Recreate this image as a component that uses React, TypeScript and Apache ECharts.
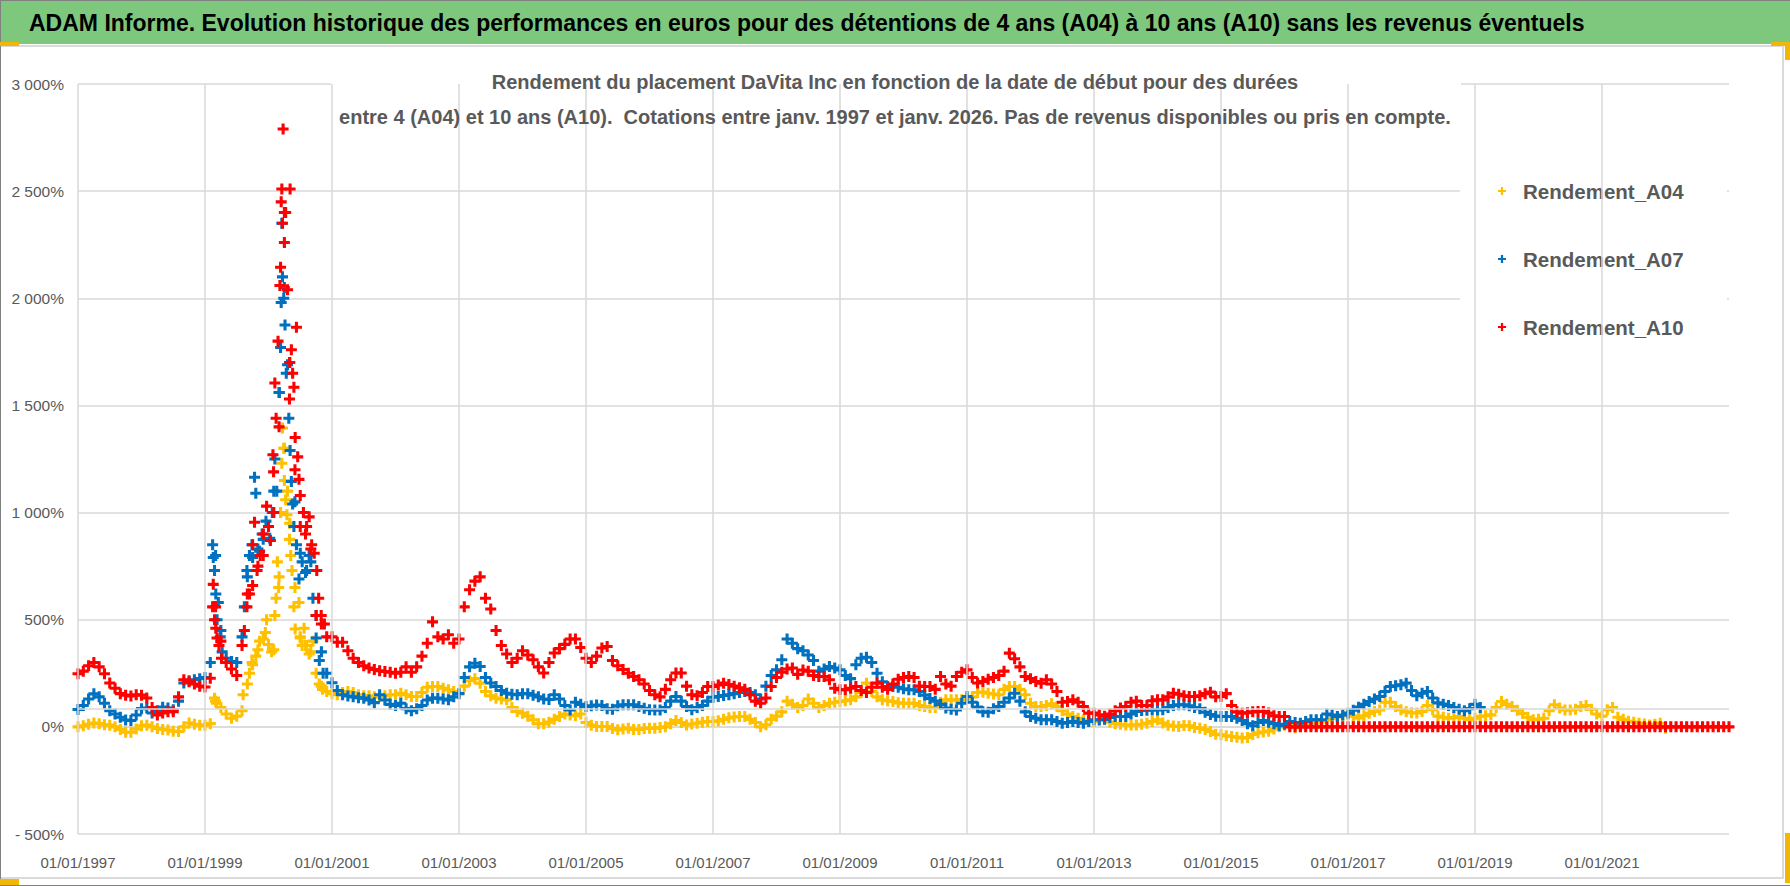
import React, { useEffect, useRef } from 'react';
import * as echarts from 'echarts';

const START_YEAR = 1997;
const TITLE =
  'ADAM Informe. Evolution historique des performances en euros pour des détentions de 4 ans (A04) à 10 ans (A10) sans les revenus éventuels';
const SUBTITLE_1 = 'Rendement du placement DaVita Inc en fonction de la date de début pour des durées';
const SUBTITLE_2 =
  'entre 4 (A04) et 10 ans (A10).  Cotations entre janv. 1997 et janv. 2026. Pas de revenus disponibles ou pris en compte.';
const SERIES_NAMES = ['Rendement_A04', 'Rendement_A07', 'Rendement_A10'];
const COLORS = ['#FFC000', '#0070C0', '#FF0000'];

// x-axis: years since 01/01/1997; gridlines every 2 years
const X_GRID_YEARS = [0, 2, 4, 6, 8, 10, 12, 14, 16, 18, 20, 22, 24];
const Y_EXTRA_LINE = 83;

// Monthly values (%), starting 01/01/1997
const A04_MONTHLY = [
  0, 5, 12, 18, 15, 10, 8, 0, -12, -25, -25, -10,
  5, 8, 0, -8, -12, -15, -20, -22, 0, 18, 12, 8,
  8, 15, 120, 90, 60, 40, 50, 75, 200, 290, 360, 410,
  384, 360, 700, 1300, 950, 650, 420, 380, 350, 250, 190, 165,
  155, 150, 160, 165, 160, 150, 145, 145, 140, 140, 145, 150,
  150, 157, 150, 142, 142, 160, 185, 188, 188, 180, 173, 165,
  157, 190, 215, 225, 204, 165, 145, 134, 130, 126, 90, 72,
  64, 50, 33, 15, 15, 22, 35, 48, 60, 55, 52, 60,
  20, 8, 2, 2, 2, -8, -14, -10, -6, -12, -12, -8,
  -6, -6, -3, 0, 15, 30, 20, 9, 13, 17, 22, 25,
  25, 28, 35, 42, 46, 48, 48, 35, 20, 0, 10, 35,
  50, 70, 120, 105, 90, 100, 130, 110, 90, 100, 110, 115,
  118, 122, 126, 140, 160, 204, 165, 140, 126, 122, 118, 112,
  110, 110, 110, 100, 95, 90, 90, 115, 126, 126, 126, 126,
  132, 140, 160, 162, 157, 153, 150, 175, 188, 188, 175, 150,
  110, 95, 95, 100, 108, 95, 75, 60, 48, 40, 33, 28,
  25, 30, 33, 22, 15, 12, 9, 9, 9, 12, 17, 25,
  33, 18, 8, 4, 2, 6, 5, -3, -6, -12, -22, -35,
  -37, -42, -45, -48, -52, -50, -36, -28, -24, -20, -10, 0,
  8, 5, -4, 5, 15, 17, 17, 24, 32, 38, 46, 52,
  56, 50, 42, 52, 63, 72, 79, 115, 115, 95, 80, 70,
  66, 65, 72, 100, 80, 50, 45, 40, 44, 48, 40, 33,
  40, 48, 52, 56, 90, 118, 105, 95, 78, 62, 45, 33,
  36, 40, 75, 103, 88, 79, 79, 82, 95, 100, 82, 60,
  50, 80, 90, 45, 35, 26, 22, 17, 13, 9, 12, 17,
  -5,
];

const A07_MONTHLY = [
  81, 100, 130, 154, 140, 110, 75, 60, 45, 32, 30, 55,
  85, 88, 65, 75, 92, 88, 80, 120, 205, 215, 220, 225,
  230, 300, 800, 450, 320, 305, 300, 420, 700, 790, 830, 875,
  935, 1100, 1560, 2050, 1700, 1050, 810, 720, 770, 520, 350, 250,
  206, 170, 150, 144, 140, 136, 134, 125, 113, 150, 125, 105,
  100, 110, 85, 75, 85, 100, 125, 134, 134, 130, 126, 140,
  155, 230, 280, 297, 282, 230, 205, 188, 170, 157, 152, 150,
  155, 155, 148, 140, 130, 128, 150, 130, 100, 79, 115, 105,
  95, 98, 102, 100, 85, 82, 98, 103, 103, 103, 95, 87,
  80, 79, 79, 90, 120, 142, 120, 95, 80, 90, 100, 120,
  138, 142, 146, 150, 155, 160, 165, 160, 150, 130, 190, 240,
  266, 313, 410, 390, 365, 355, 335, 310, 260, 270, 282, 275,
  266, 240, 225, 290, 320, 325, 300, 250, 210, 188, 188, 185,
  178, 173, 173, 165, 148, 132, 120, 105, 88, 82, 79, 110,
  142, 115, 92, 70, 68, 85, 95, 115, 135, 157, 120, 70,
  48, 40, 33, 33, 33, 25, 17, 20, 25, 20, 17, 25,
  33, 33, 35, 44, 48, 48, 48, 60, 72, 76, 78, 79,
  79, 80, 90, 100, 103, 103, 98, 90, 85, 68, 58, 50,
  48, 48, 48, 40, 30, 15, 5, 20, 30, 22, 15, 5,
  12, 25, 20, 17, 25, 33, 33, 33, 60, 55, 48, 55,
  64, 78, 92, 105, 118, 130, 142, 165, 188, 192, 196, 204,
  170, 145, 157, 165, 135, 112, 106, 100, 90, 82, 75, 85,
  105, 90,
];

const A10_MONTHLY = [
  248, 260, 285, 300, 280, 248, 205, 180, 155, 148, 144, 150,
  148, 135, 90, 55, 65, 71, 71, 140, 220, 210, 200, 190,
  186, 227, 560, 400, 300, 270, 240, 380, 620, 660, 750, 800,
  935, 1000, 1400, 2400, 1700, 1200, 935, 900, 830, 520, 480, 420,
  420, 395, 395, 355, 320, 300, 285, 275, 268, 262, 258, 255,
  250, 255, 280, 255, 280, 330, 390, 490, 420, 410, 430, 390,
  410, 560, 640, 680, 700, 600, 550, 450, 380, 340, 300, 320,
  355, 335, 313, 280, 251, 300, 345, 365, 385, 410, 410, 370,
  320, 300, 330, 368, 375, 310, 285, 268, 250, 235, 220, 200,
  170, 150, 140, 175, 220, 251, 251, 190, 150, 145, 160, 188,
  188, 195, 204, 198, 190, 182, 175, 150, 120, 110, 135, 188,
  230, 255, 270, 275, 245, 265, 260, 240, 235, 235, 220, 180,
  173, 173, 180, 188, 170, 160, 185, 204, 185, 175, 200, 222,
  230, 235, 230, 190, 188, 188, 175, 235, 200, 190, 235, 255,
  266, 230, 205, 212, 222, 230, 240, 260, 344, 318, 280, 235,
  225, 212, 204, 220, 200, 165, 115, 118, 126, 115, 95, 64,
  64, 56, 50, 60, 75, 88, 95, 115, 120, 100, 100, 122,
  126, 126, 140, 157, 152, 145, 142, 142, 145, 155, 162, 140,
  142, 155, 100, 70, 64, 66, 70, 72, 72, 65, 52, 48,
  48, 0, 0, 0, 0, 0, 0, 0, 0, 0, 0, 0,
  0, 0, 0, 0, 0, 0, 0, 0, 0, 0, 0, 0,
  0, 0, 0, 0, 0, 0, 0, 0, 0, 0, 0, 0,
  0, 0, 0, 0, 0, 0, 0, 0, 0, 0, 0, 0,
  0, 0, 0, 0, 0, 0, 0, 0, 0, 0, 0, 0,
  0, 0, 0, 0, 0, 0, 0, 0, 0, 0, 0, 0,
  0, 0, 0, 0, 0, 0, 0, 0, 0, 0, 0, 0,
  0,
];

// Extra scattered points around the 1999-2000 peak: [decimal year, %]
const A04_PEAK: [number, number][] = [
  [1999.15, 134], [1999.18, 110], [1999.6, 150], [1999.7, 250], [1999.74, 300], [1999.8, 330],
  [1999.86, 400], [1999.95, 440], [1999.97, 500], [2000.05, 350], [2000.1, 520], [2000.12, 600],
  [2000.14, 770], [2000.16, 650], [2000.19, 1000], [2000.21, 1230], [2000.22, 1395], [2000.24, 1300],
  [2000.25, 1150], [2000.27, 1060], [2000.29, 990], [2000.3, 1100], [2000.33, 875], [2000.35, 800],
  [2000.37, 730], [2000.4, 560], [2000.42, 457], [2000.48, 580], [2000.5, 415], [2000.53, 380],
  [2000.56, 460], [2000.6, 380], [2000.64, 340], [2000.7, 400], [2000.8, 200], [2000.85, 175],
];
const A07_PEAK: [number, number][] = [
  [1999.12, 850], [1999.13, 790], [1999.15, 730], [1999.17, 620], [1999.19, 500], [1999.21, 580],
  [1999.24, 420], [1999.27, 350], [1999.62, 560], [1999.66, 730], [1999.7, 800], [1999.74, 850],
  [1999.78, 1165], [1999.8, 1090], [1999.86, 820], [1999.9, 900], [1999.96, 960], [2000.02, 880],
  [2000.06, 1000], [2000.1, 1250], [2000.13, 1100], [2000.17, 1560], [2000.19, 1770], [2000.2, 1980],
  [2000.21, 2350], [2000.22, 2100], [2000.24, 2000], [2000.26, 1875], [2000.28, 1650], [2000.3, 1690],
  [2000.32, 1440], [2000.34, 1290], [2000.36, 1145], [2000.38, 1040], [2000.4, 935], [2000.44, 850],
  [2000.48, 690], [2000.53, 770], [2000.6, 730], [2000.64, 800], [2000.7, 600], [2000.75, 415],
  [2000.8, 310], [2000.86, 250],
];
const A10_PEAK: [number, number][] = [
  [1999.12, 560], [1999.13, 665], [1999.15, 500], [1999.17, 460], [1999.19, 415], [1999.22, 380],
  [1999.26, 320], [1999.62, 450], [1999.66, 560], [1999.7, 620], [1999.75, 850], [1999.78, 955],
  [1999.82, 730], [1999.87, 800], [1999.92, 900], [1999.97, 1030], [2000.03, 870], [2000.07, 1270],
  [2000.08, 1190], [2000.1, 1605], [2000.12, 1440], [2000.15, 1800], [2000.18, 2060], [2000.19, 2145],
  [2000.2, 2450], [2000.21, 2510], [2000.22, 2350], [2000.23, 2790], [2000.25, 2260], [2000.27, 2400],
  [2000.3, 2040], [2000.33, 1530], [2000.34, 2510], [2000.36, 1760], [2000.38, 1650], [2000.4, 1585],
  [2000.42, 1350], [2000.44, 1865], [2000.46, 1260], [2000.48, 1155], [2000.5, 1080], [2000.55, 1000],
  [2000.6, 935], [2000.64, 980], [2000.68, 850], [2000.72, 810], [2000.76, 730], [2000.79, 600],
  [2000.83, 520], [2000.88, 480],
];

const PLUS = 'path://M3.6,0H6.4V3.6H10V6.4H6.4V10H3.6V6.4H0V3.6H3.6Z';
const SANS = "'Liberation Sans', Arial, sans-serif";
const TEXT_GREY = '#595959';
const GRID_GREY = '#D9D9D9';

function toPoints(monthly: number[], peak: [number, number][]) {
  const pts: [number, number][] = monthly.map((v, i) => [i / 12, v]);
  peak.forEach(([t, v]) => pts.push([t - START_YEAR, v]));
  return pts;
}

function fmtY(v: number) {
  const a = Math.abs(v);
  const s = a >= 1000 ? Math.floor(a / 1000) + ' ' + String(a % 1000).padStart(3, '0') : String(a);
  return (v < 0 ? '- ' : '') + s + '%';
}

export default function App() {
  const ref = useRef<HTMLDivElement>(null);
  useEffect(() => {
    if (!ref.current) return;
    const chart = echarts.init(ref.current, undefined, { renderer: 'svg' });
    const seriesData = [
      toPoints(A04_MONTHLY, A04_PEAK),
      toPoints(A07_MONTHLY, A07_PEAK),
      toPoints(A10_MONTHLY, A10_PEAK),
    ];
    const orange = '#F2B705';
    chart.setOption({
      animation: false,
      backgroundColor: '#ffffff',
      title: [
        {
          text: TITLE,
          left: 29,
          top: 10,
          padding: 0,
          textStyle: { fontFamily: SANS, fontSize: 23, fontWeight: 'bold', color: '#000000', lineHeight: 26 },
        },
        {
          text: SUBTITLE_1,
          left: 'center',
          top: 71,
          padding: 0,
          textStyle: { fontFamily: SANS, fontSize: 20, fontWeight: 'bold', color: TEXT_GREY, lineHeight: 22 },
        },
        {
          text: SUBTITLE_2,
          left: 'center',
          top: 106,
          padding: 0,
          textStyle: { fontFamily: SANS, fontSize: 20, fontWeight: 'bold', color: TEXT_GREY, lineHeight: 22 },
        },
      ],
      legend: {
        orient: 'vertical',
        left: 1498,
        top: 178,
        padding: 0,
        itemGap: 42,
        itemWidth: 8,
        itemHeight: 8,
        icon: PLUS,
        data: SERIES_NAMES,
        textStyle: {
          fontFamily: SANS,
          fontSize: 20.5,
          fontWeight: 'bold',
          color: TEXT_GREY,
          lineHeight: 26,
          padding: [0, 0, 0, 12],
        },
      },
      grid: { left: 78, right: 61, top: 84, bottom: 52, containLabel: false },
      xAxis: {
        type: 'value',
        min: 0,
        max: 26,
        interval: 2,
        axisLine: { show: true, lineStyle: { color: GRID_GREY, width: 1.5 } },
        axisTick: { show: false },
        splitLine: { show: false },
        axisLabel: {
          showMaxLabel: false,
          margin: 21,
          fontFamily: SANS,
          fontSize: 15,
          color: TEXT_GREY,
          formatter: (v: number) => '01/01/' + (START_YEAR + v),
        },
      },
      yAxis: {
        type: 'value',
        min: -500,
        max: 3000,
        interval: 500,
        axisLine: { show: false },
        axisTick: { show: false },
        splitLine: { show: true, lineStyle: { color: GRID_GREY, width: 1.5 } },
        axisLabel: {
          margin: 14,
          fontFamily: SANS,
          fontSize: 15.5,
          color: TEXT_GREY,
          formatter: fmtY,
        },
      },
      graphic: [
        { type: 'rect', z: -10, shape: { x: 0, y: 0, width: 1790, height: 44 }, style: { fill: '#7DC87D' } },
        { type: 'rect', z: -10, shape: { x: 0, y: 45, width: 1783, height: 2 }, style: { fill: '#DADADA' } },
        { type: 'rect', z: -10, shape: { x: 0, y: 877, width: 1783, height: 2 }, style: { fill: '#DADADA' } },
        { type: 'rect', z: -10, shape: { x: 1782, y: 45, width: 2, height: 834 }, style: { fill: '#DADADA' } },
        { type: 'line', z: 10, shape: { x1: 0, y1: 0.5, x2: 1790, y2: 0.5 }, style: { stroke: '#808080', lineWidth: 1 } },
        { type: 'line', z: 10, shape: { x1: 0.5, y1: 0, x2: 0.5, y2: 886 }, style: { stroke: '#808080', lineWidth: 1 } },
        { type: 'line', z: 10, shape: { x1: 0, y1: 885.5, x2: 1790, y2: 885.5 }, style: { stroke: '#808080', lineWidth: 1 } },
        { type: 'rect', z: 10, shape: { x: 0, y: 42, width: 19, height: 4 }, style: { fill: orange } },
        { type: 'rect', z: 10, shape: { x: 1771, y: 42, width: 19, height: 4 }, style: { fill: orange } },
        { type: 'rect', z: 10, shape: { x: 1785, y: 42, width: 5, height: 18 }, style: { fill: orange } },
        { type: 'rect', z: 10, shape: { x: 1785, y: 833, width: 5, height: 50 }, style: { fill: orange } },
        { type: 'rect', z: 10, shape: { x: 0, y: 879, width: 19, height: 6 }, style: { fill: orange } },
        // white boxes behind the chart title and the legend (they hide the gridlines)
        { type: 'rect', z: 1, shape: { x: 331, y: 56, width: 1130, height: 78 }, style: { fill: '#ffffff' } },
        { type: 'rect', z: 1, shape: { x: 1460, y: 153, width: 267, height: 207 }, style: { fill: '#ffffff' } },
      ],
      series: [
        {
          name: 'grid',
          type: 'line',
          z: 0,
          data: [],
          silent: true,
          markLine: {
            silent: true,
            symbol: ['none', 'none'],
            label: { show: false },
            lineStyle: { color: GRID_GREY, type: 'solid', width: 1.5 },
            data: [...X_GRID_YEARS.map((x) => ({ xAxis: x })), { yAxis: Y_EXTRA_LINE }],
          },
        },
        ...SERIES_NAMES.map((name, i) => ({
          name,
          type: 'scatter',
          z: 2 + i,
          symbol: PLUS,
          symbolSize: 11,
          itemStyle: { color: COLORS[i], opacity: 1 },
          data: seriesData[i],
        })),
      ],
    });
    return () => chart.dispose();
  }, []);
  return <div ref={ref} style={{ position: 'absolute', left: 0, top: 0, width: 1790, height: 886 }} />;
}
